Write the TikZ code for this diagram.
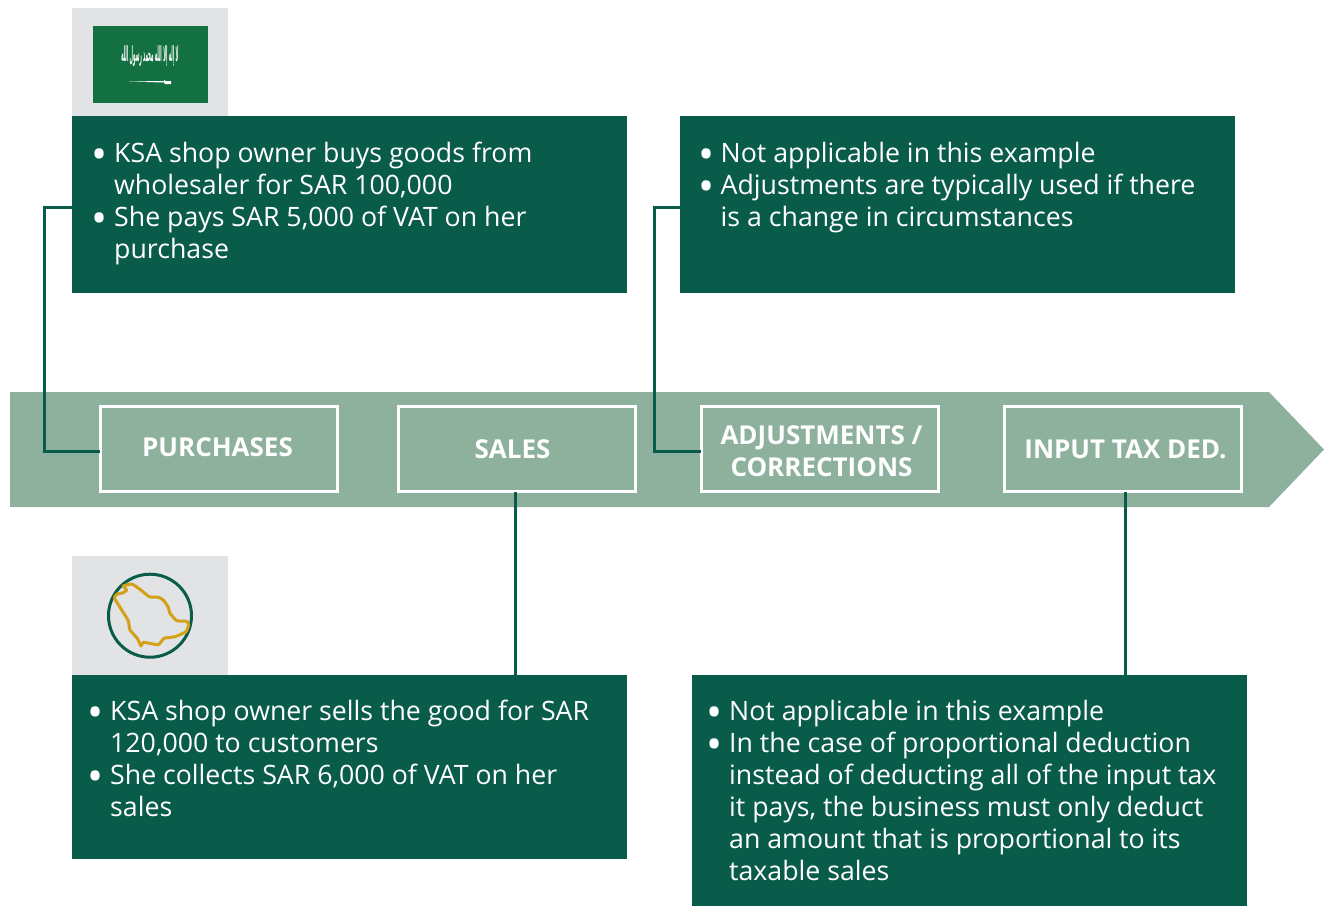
\documentclass[tikz,border=0pt]{standalone}
\usepackage{graphicx}
\usepackage{fontspec}
\setmainfont{Open Sans}
\newfontfamily\arabicfont[Script=Arabic]{DejaVu Sans}
\TeXXeTstate=1
\usetikzlibrary{positioning}
\definecolor{darkgreen}{HTML}{0A5C4A}
\definecolor{bandgreen}{HTML}{8DB19C}
\definecolor{panelgrey}{HTML}{E2E3E5}
\definecolor{flaggreen}{HTML}{137040}
\definecolor{mapgold}{HTML}{D4A017}
\newcommand{\blt}{\makebox[20pt][l]{\hspace*{-2.5pt}\smash{\raisebox{-6.5pt}{\scalebox{1.6}{\textbullet}}}}}
\newcommand{\ind}{\hspace*{20pt}}

\begin{document}
\begin{tikzpicture}[
    x=1pt, y=-1pt,
    panel/.style={rectangle, draw=none, fill=darkgreen, anchor=north west,
        minimum width=555pt, inner sep=0pt, outer sep=0pt},
    bodytext/.style={rectangle, draw=none, anchor=north west, inner sep=0pt,
        align=left, text=white, font=\fontsize{26.7}{32}\selectfont},
    stage/.style={rectangle, draw=white, line width=3pt, anchor=north west,
        minimum width=237pt, minimum height=85pt, inner sep=0pt, outer sep=0pt,
        align=center, text=white, font=\fontsize{26}{32}\selectfont\bfseries},
    greybox/.style={rectangle, draw=none, fill=panelgrey, anchor=north west,
        minimum width=156pt, inner sep=0pt, outer sep=0pt},
    link/.style={draw=darkgreen, line width=3pt}
]
\useasboundingbox (0,0) rectangle (1324,906);

% arrow band
\fill[bandgreen] (10,392) -- (1269,392) -- (1324,449.5) -- (1269,507) -- (10,507) -- cycle;

% grey panels with flag and map
\node [greybox, minimum height=108pt] (flagpanel) at (72,8) {};
\node [greybox, minimum height=119pt] (mappanel) at (72,556) {};
\node [rectangle, fill=flaggreen, anchor=north west, minimum width=115.5pt,
    minimum height=77pt, inner sep=0pt] (flag) at (92.5,26) {};
\node [text=white, inner sep=0pt, font=\arabicfont\bfseries\fontsize{9.5}{10}\selectfont] (shahada) at (150,56)
    {\scalebox{0.42}[2.2]{\beginR لا إله إلا الله محمد رسول الله\endR}};
\fill[white] (129,81.5) -- (164,81) -- (164,80) -- (165,80) -- (165,81) -- (171,81)
    -- (171,84) -- (165,84) -- (164,82.5) -- cycle;

\node [circle, draw=darkgreen, line width=3pt, minimum size=83pt, inner sep=0pt] (mapring) at (150,615.7) {};
\draw[mapgold, line width=3pt, line join=round] plot[smooth, tension=0.25] coordinates {
    (114,597.7) (116.7,594.3) (123.3,592.7) (126.7,590) (123.3,586) (131.7,584)
    (140,589.3) (149.3,596.7) (158.3,597.3) (163.3,600) (168.3,607.3) (170,613.3)
    (176.7,620.7) (186.7,621.3) (188.7,625) (186,631.7) (175,636.7) (164,638.3)
    (158.3,644.7) (143.3,642.3) (141,646) (137.3,638.3) (130,630) (128.3,620.7)
    (121.7,610) (114,597.7)};

% panels
\node [panel, minimum height=177pt] (buy) at (72,116) {};
\node [panel, minimum height=177pt] (adjnote) at (680,116) {};
\node [panel, minimum height=184pt] (sell) at (72,675) {};
\node [panel, minimum height=231pt] (dednote) at (692,675) {};

\node [bodytext] (buytext) at (94,142) {\blt KSA shop owner buys goods from\\\ind wholesaler for SAR 100,000\\\blt She pays SAR 5,000 of VAT on her\\\ind purchase};
\node [bodytext] (adjtext) at (700.5,142.5) {\blt Not applicable in this example\\\blt Adjustments are typically used if there\\\ind is a change in circumstances};
\node [bodytext] (selltext) at (90,700) {\blt KSA shop owner sells the good for SAR\\\ind 120,000 to customers\\\blt She collects SAR 6,000 of VAT on her\\\ind sales};
\node [bodytext] (dedtext) at (709,700) {\blt Not applicable in this example\\\blt In the case of proportional deduction\\\ind instead of deducting all of the input tax\\\ind it pays, the business must only deduct\\\ind an amount that is proportional to its\\\ind taxable sales};

% stages on the band
\node [stage] (purchases) at (100,406.5) {\raisebox{3pt}{PURCHASES}\hspace*{2pt}};
\node [stage] (sales) at (398,406.5) {SALES\hspace*{8pt}};
\node [stage] (adjust) at (701,406.5) {\rule{0pt}{23pt}\hspace*{4pt}ADJUSTMENTS /\\\hspace*{4pt}CORRECTIONS};
\node [stage] (deduct) at (1004,406.5) {\hspace*{6pt}INPUT TAX DED.};

% connectors
\draw[link] (buy.west |- 72,207) -- (44,207) |- (purchases.west |- 100,451);
\draw[link] (adjnote.west |- 680,207) -- (654,207) |- (adjust.west |- 701,451);
\draw[link] (sales.south -| 515,0) -- (sell.north -| 515,0);
\draw[link] (deduct.south -| 1125,0) -- (dednote.north -| 1125,0);

\end{tikzpicture}
\end{document}
